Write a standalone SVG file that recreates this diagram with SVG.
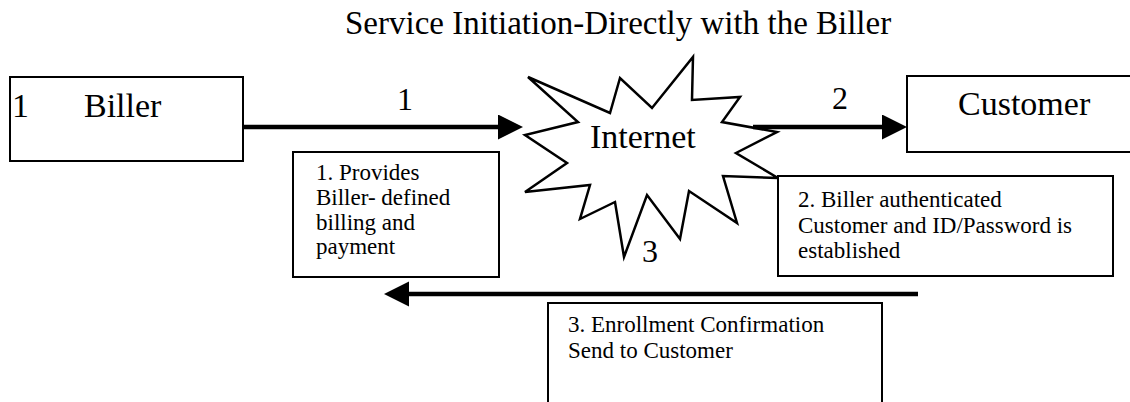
<svg xmlns="http://www.w3.org/2000/svg" width="1130" height="402" viewBox="0 0 1130 402">
  <style>
    .box { fill: #ffffff; stroke: #000000; stroke-width: 2; }
    .star { fill: #ffffff; stroke: #000000; stroke-width: 2.5; stroke-linejoin: miter; }
    text { font-family: 'Liberation Serif', 'DejaVu Serif', 'Noto Serif', serif; fill: #000000; }
    .big { font-size: 34px; }
    .title { font-size: 33px; }
    .small { font-size: 23px; }
    .num { font-size: 32px; }
    .conn { stroke: #000000; stroke-width: 4.5; fill: none; }
  </style>
  <defs>
    <marker id="head" markerUnits="userSpaceOnUse" markerWidth="26" markerHeight="26" refX="0" refY="12.5" orient="auto">
      <path d="M0,0 L25,12.5 L0,25 Z" fill="#000000"/>
    </marker>
  </defs>
  <rect width="1130" height="402" fill="#ffffff"/>

  <text id="title" class="title" x="345" y="34" font-family="'Liberation Serif', 'DejaVu Serif', serif">Service Initiation-Directly with the Biller</text>

  <g id="biller">
    <rect class="box" x="10" y="77" width="233" height="84"/>
    <text class="big" x="12" y="117" font-family="'Liberation Serif', 'DejaVu Serif', serif">1</text>
    <text class="big" x="84" y="117" font-family="'Liberation Serif', 'DejaVu Serif', serif">Biller</text>
  </g>

  <g id="customer">
    <rect class="box" x="907" y="76" width="230" height="76"/>
    <text class="big" x="958" y="115" font-family="'Liberation Serif', 'DejaVu Serif', serif">Customer</text>
  </g>

  <g id="internet">
    <polygon class="star" points="528,77 610,113 620,78 652,108 693,57 692,100 740,97 722,122 777,132 736,153 778,178 723,176 737,223 689,191 680,239 647,195 624,257 615,202 580,219 590,185 525,192 567,163 525,135 578,122"/>
    <text class="big" x="590" y="148" font-family="'Liberation Serif', 'DejaVu Serif', serif">Internet</text>
  </g>

  <g id="note1">
    <rect class="box" x="293" y="152" width="206" height="125"/>
    <text class="small" x="316" y="180" font-family="'Liberation Serif', 'DejaVu Serif', serif">1.  Provides</text>
    <text class="small" x="316" y="205" font-family="'Liberation Serif', 'DejaVu Serif', serif">Biller- defined</text>
    <text class="small" x="316" y="230" font-family="'Liberation Serif', 'DejaVu Serif', serif">billing and</text>
    <text class="small" x="316" y="254" font-family="'Liberation Serif', 'DejaVu Serif', serif">payment</text>
  </g>

  <g id="note2">
    <rect class="box" x="778" y="176" width="335" height="100"/>
    <text class="small" x="798" y="207" font-family="'Liberation Serif', 'DejaVu Serif', serif">2.  Biller authenticated</text>
    <text class="small" x="798" y="233" font-family="'Liberation Serif', 'DejaVu Serif', serif">Customer and ID/Password is</text>
    <text class="small" x="798" y="258" font-family="'Liberation Serif', 'DejaVu Serif', serif">established</text>
  </g>

  <g id="note3">
    <rect class="box" x="548" y="303" width="334" height="110"/>
    <text class="small" x="568" y="332" font-family="'Liberation Serif', 'DejaVu Serif', serif">3.  Enrollment Confirmation</text>
    <text class="small" x="568" y="358" font-family="'Liberation Serif', 'DejaVu Serif', serif">Send to Customer</text>
  </g>

  <g id="connectors">
    <line class="conn" x1="243" y1="127" x2="498" y2="127" marker-end="url(#head)"/>
    <text class="num" x="397" y="110" font-family="'Liberation Serif', 'DejaVu Serif', serif">1</text>
    <line class="conn" x1="753" y1="127" x2="882" y2="127" marker-end="url(#head)"/>
    <text class="num" x="832" y="109" font-family="'Liberation Serif', 'DejaVu Serif', serif">2</text>
    <line class="conn" x1="918" y1="294" x2="409" y2="294" marker-end="url(#head)"/>
    <text class="num" x="642" y="262" font-family="'Liberation Serif', 'DejaVu Serif', serif">3</text>
  </g>
</svg>
